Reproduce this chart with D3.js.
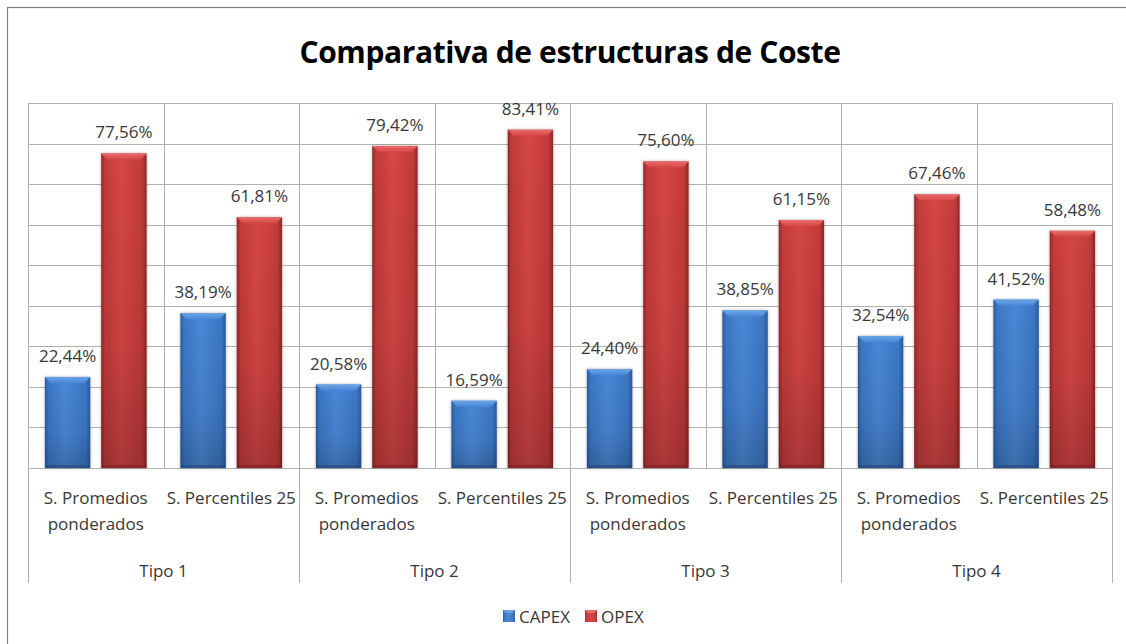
<!DOCTYPE html>
<html>
<head>
<meta charset="utf-8">
<script src="https://cdn.jsdelivr.net/npm/d3@7"></script>
<style>
  html, body { margin: 0; padding: 0; background: #fff; }
  svg { display: block; }
  text { font-family: "Open Sans", "Noto Sans", sans-serif; fill: #383838; }
</style>
</head>
<body>
<svg id="chart" width="1126" height="644"></svg>
<script>
// ---- data ----
const groups = ["Tipo 1", "Tipo 2", "Tipo 3", "Tipo 4"];
const subLabels = [["S. Promedios", "ponderados"], ["S. Percentiles 25"]];
const series = ["CAPEX", "OPEX"];
const capex = [22.44, 38.19, 20.58, 16.59, 24.40, 38.85, 32.54, 41.52];
const opex  = [77.56, 61.81, 79.42, 83.41, 75.60, 61.15, 67.46, 58.48];
const yTicks = [0, 10, 20, 30, 40, 50, 60, 70, 80, 90];
const title = "Comparativa de estructuras de Coste";

// ---- layout ----
const W = 1126, H = 644;
const plot = { left: 28, right: 1112, top: 103, bottom: 468 };
const groupLineBottom = 583;

const svg = d3.select("#chart");

const cats = d3.range(groups.length * subLabels.length);
const x = d3.scaleBand().domain(cats).range([plot.left, plot.right]).padding(0);
const xs = d3.scaleBand().domain(series).range([0, x.bandwidth()])
  .paddingInner(0.195).paddingOuter(0.30);
const y = d3.scaleLinear().domain([0, 90]).range([plot.bottom, plot.top]);

const pal = {
  CAPEX: { dark: "#2a5a9c", base: "#3b76c4", light: "#4a88d6", top: "#6aa3e6", shade: "#1f4579" },
  OPEX:  { dark: "#8f2626", base: "#c23a3a", light: "#d64646", top: "#ea6a6a", shade: "#7a1f1f" }
};

const defs = svg.append("defs");
series.forEach(s => {
  const c = pal[s];
  const g = defs.append("linearGradient").attr("id", "h-" + s)
    .attr("x1", 0).attr("x2", 1).attr("y1", 0).attr("y2", 0);
  [[0, c.dark], [0.08, c.base], [0.45, c.light], [0.9, c.base], [1, c.dark]]
    .forEach(([o, col]) => g.append("stop").attr("offset", o).attr("stop-color", col));
  const v = defs.append("linearGradient").attr("id", "v-" + s)
    .attr("x1", 0).attr("x2", 0).attr("y1", 0).attr("y2", 1);
  v.append("stop").attr("offset", 0).attr("stop-color", "#000").attr("stop-opacity", 0);
  v.append("stop").attr("offset", 0.6).attr("stop-color", "#000").attr("stop-opacity", 0.06);
  v.append("stop").attr("offset", 1).attr("stop-color", "#000").attr("stop-opacity", 0.2);
  const t = defs.append("linearGradient").attr("id", "t-" + s)
    .attr("x1", 0).attr("x2", 0).attr("y1", 0).attr("y2", 1);
  t.append("stop").attr("offset", 0).attr("stop-color", c.top);
  t.append("stop").attr("offset", 1).attr("stop-color", c.light);
});
const shadow = defs.append("filter").attr("id", "shadow")
  .attr("x", "-20%").attr("y", "-10%").attr("width", "140%").attr("height", "120%");
shadow.append("feDropShadow").attr("dx", 0).attr("dy", 0)
  .attr("stdDeviation", 1.6).attr("flood-color", "#000").attr("flood-opacity", 0.35);

// outer chart frame
svg.append("rect").attr("x", 7.5).attr("y", 7.5).attr("width", W).attr("height", H)
  .attr("fill", "#fff").attr("stroke", "#808080").attr("stroke-width", 1.2);

// title
svg.append("text").attr("x", (plot.left + plot.right) / 2).attr("y", 63)
  .attr("text-anchor", "middle").style("font-size", "30px").style("font-weight", 700)
  .style("letter-spacing", "-0.4px").style("fill", "#000").text(title);

// horizontal gridlines
const grid = svg.append("g").attr("stroke", "#b0b0b0").attr("stroke-width", 1);
grid.selectAll("line.h").data(yTicks).join("line").attr("class", "h")
  .attr("x1", plot.left).attr("x2", plot.right)
  .attr("y1", d => Math.round(y(d)) + 0.5).attr("y2", d => Math.round(y(d)) + 0.5);

// vertical category lines (group boundaries run down through the labels)
const bounds = cats.map(i => x(i)).concat([plot.right]);
grid.selectAll("line.v").data(bounds).join("line").attr("class", "v")
  .attr("x1", d => Math.round(d) + 0.5).attr("x2", d => Math.round(d) + 0.5)
  .attr("y1", plot.top)
  .attr("y2", (d, i) => i % subLabels.length === 0 ? groupLineBottom : Math.round(y(0)));

// bars
const rows = [];
cats.forEach(i => {
  rows.push({ cat: i, s: "CAPEX", v: capex[i] });
  rows.push({ cat: i, s: "OPEX", v: opex[i] });
});
const bw = xs.bandwidth();
const bars = svg.append("g").selectAll("g.bar").data(rows).join("g").attr("class", "bar");
bars.append("rect")
  .attr("x", d => x(d.cat) + xs(d.s)).attr("y", d => y(d.v))
  .attr("width", bw).attr("height", d => y(0) - y(d.v))
  .attr("fill", d => `url(#h-${d.s})`).attr("filter", "url(#shadow)");
bars.append("rect")
  .attr("x", d => x(d.cat) + xs(d.s)).attr("y", d => y(d.v))
  .attr("width", bw).attr("height", d => y(0) - y(d.v))
  .attr("fill", d => `url(#v-${d.s})`);
// top bevel
const bev = 6;
bars.append("polygon")
  .attr("points", d => {
    const x0 = x(d.cat) + xs(d.s), x1 = x0 + bw, t = y(d.v);
    return [[x0, t], [x1, t], [x1 - bev, t + bev], [x0 + bev, t + bev]].join(" ");
  })
  .attr("fill", d => `url(#t-${d.s})`);
// bottom shade strip
bars.append("polygon")
  .attr("points", d => {
    const x0 = x(d.cat) + xs(d.s), x1 = x0 + bw, b = y(0);
    return [[x0, b], [x1, b], [x1 - 3, b - 3], [x0 + 3, b - 3]].join(" ");
  })
  .attr("fill", d => pal[d.s].shade).attr("opacity", 0.55);

// value labels
const fmt = v => d3.format(".2f")(v).replace(".", ",") + "%";
svg.append("g").selectAll("text").data(rows).join("text")
  .attr("x", d => x(d.cat) + xs(d.s) + bw / 2)
  .attr("y", d => y(d.v) - 15)
  .attr("text-anchor", "middle").style("font-size", "17px")
  .text(d => fmt(d.v));

// category labels
const catG = svg.append("g").selectAll("text").data(cats).join("text")
  .attr("text-anchor", "middle").style("font-size", "17px")
  .attr("transform", i => `translate(${x(i) + x.bandwidth() / 2},504)`);
catG.selectAll("tspan").data(i => subLabels[i % subLabels.length]).join("tspan")
  .attr("x", 0).attr("dy", (d, j) => j === 0 ? 0 : 26).text(d => d);

// group labels
svg.append("g").selectAll("text").data(groups).join("text")
  .attr("x", (d, i) => x(i * subLabels.length) + x.bandwidth() * subLabels.length / 2)
  .attr("y", 577).attr("text-anchor", "middle").style("font-size", "17px")
  .text(d => d);

// legend
const legendX = [503, 585];
const leg = svg.append("g").selectAll("g").data(series).join("g")
  .attr("transform", (d, i) => `translate(${legendX[i]},610)`);
leg.append("rect").attr("width", 12).attr("height", 12)
  .attr("fill", d => `url(#h-${d})`);
leg.append("polygon").attr("points", "0,0 12,0 9,3 3,3").attr("fill", d => pal[d].top);
leg.append("text").attr("x", 16).attr("y", 13).style("font-size", "17px").text(d => d);
</script>
</body>
</html>
